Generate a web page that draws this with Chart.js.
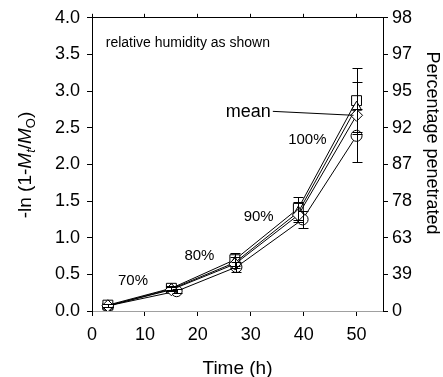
<!DOCTYPE html>
<html>
<head>
<meta charset="utf-8">
<script src="https://cdn.jsdelivr.net/npm/chart.js@4.4.0/dist/chart.umd.min.js"></script>
<style>
  body { margin: 0; background: #fff; }
  canvas { display: block; }
</style>
</head>
<body>
<canvas id="myChart" width="443" height="377"></canvas>
<script>
// data
var times = [3, 15, 27, 39, 50];
var circleTimes = [3, 16, 27.3, 39.8, 50];

var squareVals = [0.08, 0.31, 0.70, 1.40, 2.87];
var triangleVals = [0.07, 0.30, 0.66, 1.35, 2.78];
var meanVals = [0.07, 0.29, 0.64, 1.31, 2.67];
var circleVals = [0.07, 0.27, 0.60, 1.25, 2.39];

var squareErr = [0.02, 0.03, 0.09, 0.16, 0.45];
var triangleErr = [0.02, 0.03, 0.08, 0.14, 0.34];
var circleErr = [0.02, 0.03, 0.07, 0.12, 0.36];

var xTickLabels = ['0', '10', '20', '30', '40', '50'];
var leftTickLabels = ['0.0', '0.5', '1.0', '1.5', '2.0', '2.5', '3.0', '3.5', '4.0'];
var rightTickLabels = ['0', '39', '63', '78', '87', '92', '95', '97', '98'];

var annotations = [
    { text: 'relative humidity as shown', x: 2.6, y: 3.66, align: 'left', size: 14 },
    { text: '70%', x: 7.75, y: 0.41, align: 'center', size: 15 },
    { text: '80%', x: 20.3, y: 0.75, align: 'center', size: 15 },
    { text: '90%', x: 31.5, y: 1.28, align: 'center', size: 15 },
    { text: '100%', x: 40.7, y: 2.33, align: 'center', size: 15 },
    { text: 'mean', x: 33.8, y: 2.71, align: 'right', size: 18 }
];

var FONT = '"Liberation Sans", Arial, sans-serif';

function pts(xs, ys) {
    return xs.map(function (x, i) { return { x: x, y: ys[i] }; });
}

function series(xs, ys, style, radius, err) {
    return {
        data: pts(xs, ys),
        errors: err,
        borderColor: '#000',
        borderWidth: 1,
        pointStyle: style,
        pointRadius: radius,
        pointBackgroundColor: '#fff',
        pointBorderColor: '#000',
        pointBorderWidth: 1,
        tension: 0,
        fill: false
    };
}

// error bars on top of the markers
var errorBars = {
    id: 'errorBars',
    afterDatasetsDraw: function (chart) {
        var ctx = chart.ctx;
        var xs = chart.scales.x, ys = chart.scales.y;
        ctx.save();
        ctx.strokeStyle = '#000';
        ctx.lineWidth = 1;
        chart.data.datasets.forEach(function (ds) {
            if (!ds.errors) return;
            ds.data.forEach(function (p, i) {
                var e = ds.errors[i];
                var px = Math.round(xs.getPixelForValue(p.x)) + 0.5;
                var top = Math.round(ys.getPixelForValue(p.y + e)) + 0.5;
                var bot = Math.round(ys.getPixelForValue(p.y - e)) + 0.5;
                ctx.beginPath();
                ctx.moveTo(px, top); ctx.lineTo(px, bot);
                ctx.moveTo(px - 5, top); ctx.lineTo(px + 5, top);
                ctx.moveTo(px - 5, bot); ctx.lineTo(px + 5, bot);
                ctx.stroke();
            });
        });
        ctx.restore();
    }
};

// texts, leader line and axis titles
var extras = {
    id: 'extras',
    afterDraw: function (chart) {
        var ctx = chart.ctx;
        var xs = chart.scales.x, ys = chart.scales.y;
        var area = chart.chartArea;
        ctx.save();
        ctx.fillStyle = '#000';
        ctx.textBaseline = 'middle';
        var meanEnd = null;
        annotations.forEach(function (a) {
            ctx.font = a.size + 'px ' + FONT;
            ctx.textAlign = a.align;
            var px = xs.getPixelForValue(a.x), py = ys.getPixelForValue(a.y);
            ctx.fillText(a.text, px, py);
            if (a.text === 'mean') meanEnd = { x: px + 2, y: py - 1 };
        });
        // leader from "mean" to the mean point
        var n = times.length - 1;
        ctx.strokeStyle = '#000';
        ctx.lineWidth = 1;
        ctx.beginPath();
        ctx.moveTo(meanEnd.x, meanEnd.y);
        ctx.lineTo(xs.getPixelForValue(times[n]) - 3, ys.getPixelForValue(meanVals[n]));
        ctx.stroke();

        // x title
        ctx.font = '19px ' + FONT;
        ctx.textAlign = 'center';
        ctx.textBaseline = 'alphabetic';
        ctx.fillText('Time (h)', (area.left + area.right) / 2, area.bottom + 63);

        // right title
        ctx.save();
        ctx.translate(432, 143);
        ctx.rotate(Math.PI / 2);
        ctx.font = '18px ' + FONT;
        ctx.textAlign = 'center';
        ctx.textBaseline = 'middle';
        ctx.fillText('Percentage penetrated', 0, 0);
        ctx.restore();

        // left title with italic M and subscripts
        var parts = [
            { t: '-ln (1-', f: '19px ' + FONT, dy: 0 },
            { t: 'M', f: 'italic 19px ' + FONT, dy: 0 },
            { t: 't', f: 'italic 13px ' + FONT, dy: 4 },
            { t: '/', f: '19px ' + FONT, dy: 0 },
            { t: 'M', f: 'italic 19px ' + FONT, dy: 0 },
            { t: 'O', f: '13px ' + FONT, dy: 4 },
            { t: ')', f: '19px ' + FONT, dy: 0 }
        ];
        var total = 0;
        parts.forEach(function (p) { ctx.font = p.f; p.w = ctx.measureText(p.t).width; total += p.w; });
        ctx.save();
        ctx.translate(31, 165);
        ctx.rotate(-Math.PI / 2);
        ctx.textAlign = 'left';
        ctx.textBaseline = 'alphabetic';
        var cx = -total / 2;
        parts.forEach(function (p) {
            ctx.font = p.f;
            ctx.fillText(p.t, cx, p.dy);
            cx += p.w;
        });
        ctx.restore();
        ctx.restore();
    }
};

var ctx = document.getElementById('myChart').getContext('2d');
var myChart = new Chart(ctx, {
    type: 'line',
    data: {
        datasets: [
            series(times, meanVals, 'rectRot', 6, null),
            series(times, triangleVals, 'triangle', 6, triangleErr),
            series(times, squareVals, 'rect', 7, squareErr),
            series(circleTimes, circleVals, 'circle', 5.5, circleErr)
        ]
    },
    options: {
        responsive: false,
        animation: false,
        layout: { padding: 0 },
        plugins: { legend: { display: false }, tooltip: { enabled: false } },
        scales: {
            x: {
                type: 'linear',
                position: 'bottom',
                min: 0, max: 55,
                grid: { drawOnChartArea: false, drawTicks: true, tickLength: 5, tickColor: '#000' },
                border: { color: '#a0a0a0', width: 1 },
                ticks: {
                    stepSize: 10, includeBounds: false, padding: 8, color: '#000',
                    font: { family: FONT, size: 18 },
                    maxRotation: 0,
                    callback: function (v, i) { return xTickLabels[i]; }
                },
                afterFit: function (s) { s.height = 66; }
            },
            x2: {
                type: 'linear',
                position: 'top',
                min: 0, max: 55,
                grid: { drawOnChartArea: false, drawTicks: true, tickLength: 4, tickColor: '#000' },
                border: { color: '#000', width: 1 },
                ticks: { stepSize: 10, includeBounds: false, display: false },
                afterFit: function (s) { s.height = 17; }
            },
            y: {
                position: 'left',
                min: 0, max: 4,
                grid: { drawOnChartArea: false, drawTicks: true, tickLength: 5, tickColor: '#000' },
                border: { color: '#000', width: 1 },
                ticks: {
                    stepSize: 0.5, padding: 7, color: '#000',
                    font: { family: FONT, size: 18 },
                    callback: function (v, i) { return leftTickLabels[i]; }
                },
                afterFit: function (s) { s.width = 92; }
            },
            y2: {
                position: 'right',
                min: 0, max: 4,
                grid: { drawOnChartArea: false, drawTicks: true, tickLength: 5, tickColor: '#000' },
                border: { color: '#000', width: 1 },
                ticks: {
                    stepSize: 0.5, padding: 4, color: '#000',
                    font: { family: FONT, size: 18 },
                    callback: function (v, i) { return rightTickLabels[i]; }
                },
                afterFit: function (s) { s.width = 60; }
            }
        }
    },
    plugins: [errorBars, extras]
});
</script>
</body>
</html>
